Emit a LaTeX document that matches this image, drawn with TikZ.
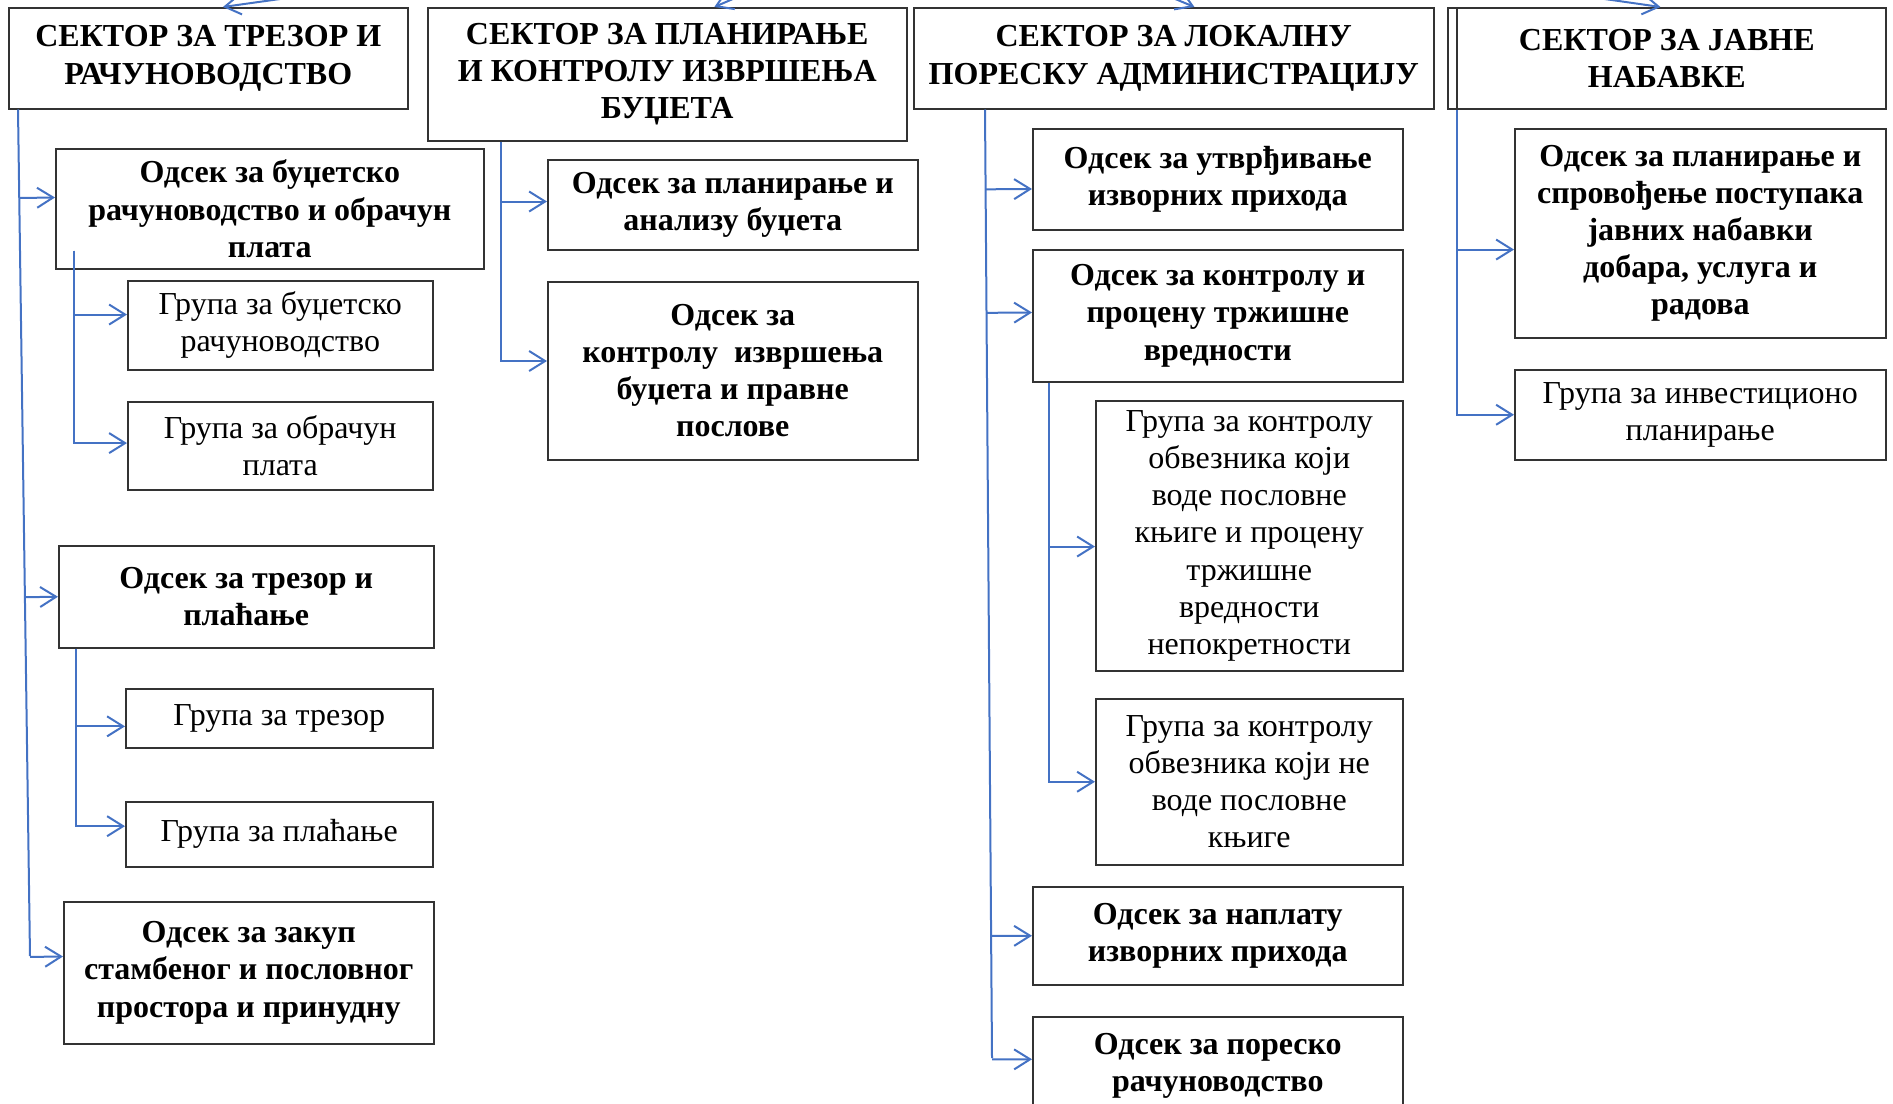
\documentclass[tikz,border=0pt]{standalone}
\usepackage{fontspec}
\setmainfont{Liberation Serif}
\usetikzlibrary{arrows.meta}
\usetikzlibrary{calc}
\definecolor{linkblue}{RGB}{68,114,196}
\newcommand{\boxfont}{\fontsize{16}{18.6}\selectfont}
\tikzset{x=0.5pt, y=-0.5pt, % One unit is one pixel of the chart, y runs down
sektor/.style={ % Sets the properties for each box
draw=black!80,
line width=0.75pt,
inner sep=0pt,
align=center,
anchor=north west,
font=\boxfont\bfseries},
grupa/.style={ % Groups are set in regular weight
sektor,
font=\boxfont},
link/.style={ % Blue connectors with open arrowheads
draw=linkblue,
line width=1pt,
-{Straight Barb[length=8pt,width=10pt]}},
trunk/.style={ % Vertical lines without a tip
draw=linkblue,
line width=1pt}}

\begin{document}
\begin{tikzpicture}
\path[use as bounding box, clip] (0,0) rectangle (1893,1103);

% sectors
\node[sektor, minimum width=199.5pt, minimum height=50.5pt] (S1) at (8,7) {СЕКТОР ЗА ТРЕЗОР И\\РАЧУНОВОДСТВО};
\node[sektor, minimum width=239.5pt, minimum height=66.5pt] (S2) at (427,7) {СЕКТОР ЗА ПЛАНИРАЊЕ\\И КОНТРОЛУ ИЗВРШЕЊА\\БУЏЕТА};
\node[sektor, minimum width=260pt, minimum height=50.5pt] (S3) at (913,7) {СЕКТОР ЗА ЛОКАЛНУ\\ПОРЕСКУ АДМИНИСТРАЦИЈУ};
\node[sektor, minimum width=219pt, minimum height=50.5pt] (S4) at (1447,7) {СЕКТОР ЗА ЈАВНЕ\\НАБАВКЕ};

% first sector
\node[sektor, minimum width=214pt, minimum height=60pt] (o11) at (55,148) {Одсек за буџетско\\рачуноводство и обрачун\\плата};
\node[grupa, minimum width=152.5pt, minimum height=44.5pt] (g111) at (127,280) {Група за буџетско\\рачуноводство};
\node[grupa, minimum width=152.5pt, minimum height=44pt] (g112) at (127,401) {Група за обрачун\\плата};
\node[sektor, minimum width=187.5pt, minimum height=51pt] (o12) at (58,545) {Одсек за трезор и\\плаћање};
\node[grupa, minimum width=153.5pt, minimum height=29.5pt] (g121) at (125,688) {Група за трезор};
\node[grupa, minimum width=153.5pt, minimum height=32.5pt] (g122) at (125,801) {Група за плаћање};
\node[sektor, minimum width=185pt, minimum height=71pt] (o13) at (63,901) {Одсек за закуп\\стамбеног и пословног\\простора и принудну};

% second sector
\node[sektor, minimum width=185pt, minimum height=45pt] (o21) at (547,159) {Одсек за планирање и\\анализу буџета};
\node[sektor, minimum width=185pt, minimum height=89pt] (o22) at (547,281) {Одсек за\\контролу~~извршења\\буџета и правне\\послове};

% third sector
\node[sektor, minimum width=185pt, minimum height=50.5pt] (o31) at (1032,128) {Одсек за утврђивање\\изворних прихода};
\node[sektor, minimum width=185pt, minimum height=66pt] (o32) at (1032,249) {Одсек за контролу и\\процену тржишне\\вредности};
\node[grupa, minimum width=153.5pt, minimum height=135pt] (g321) at (1095,400) {Група за контролу\\обвезника који\\воде пословне\\књиге и процену\\тржишне\\вредности\\непокретности};
\node[grupa, minimum width=153.5pt, minimum height=83pt] (g322) at (1095,698) {Група за контролу\\обвезника који не\\воде пословне\\књиге};
\node[sektor, minimum width=185pt, minimum height=49pt] (o33) at (1032,886) {Одсек за наплату\\изворних прихода};
\node[sektor, minimum width=185pt, minimum height=49pt] (o34) at (1032,1016) {Одсек за пореско\\рачуноводство};

% fourth sector
\node[sektor, minimum width=185.5pt, minimum height=104.5pt] (o41) at (1514,128) {Одсек за планирање и\\спровођење поступака\\јавних набавки\\добара, услуга и\\радова};
\node[grupa, minimum width=185.5pt, minimum height=45pt] (g411) at (1514,369) {Група за инвестиционо\\планирање};

% arrows coming in from above the cut
\coordinate (vrh) at (950,-95);
\draw[link] (vrh) -- (S1.74);
\draw[link] (vrh) -- (S2.55);
\draw[link] (vrh) -- (S3.68);
\draw[link] (vrh) -- (S4.97);

% column 1
\coordinate (c1) at ($(S1.south west)+(10,0)$);
\coordinate (c1end) at (30,956);
\draw[trunk] (c1) -- (c1end);
\draw[link] ($(c1)!(o11.177)!(c1end)$) -- (o11.177);
\draw[link] ($(c1)!(o12.180)!(c1end)$) -- (o12.180);
\draw[link] ($(c1)!(o13.175)!(c1end)$) -- (o13.175);
\coordinate (c11) at ($(o11.south west)+(19,-19)$);
\draw[link] (c11) |- (g111.176);
\draw[link] (c11) |- (g112.179);
\coordinate (c12) at ($(o12.south west)+(18,0)$);
\draw[link] (c12) |- (g121.183);
\draw[link] (c12) |- (g122.177);

% column 2
\coordinate (c2) at ($(S2.south west)+(74,0)$);
\draw[link] (c2) |- (o21.179);
\draw[link] (c2) |- (o22.177);

% column 3
\coordinate (c3) at ($(S3.south west)+(72,0)$);
\coordinate (c3end) at (992,1058);
\draw[trunk] (c3) -- (c3end);
\draw[link] ($(c3)!(o31.183)!(c3end)$) -- (o31.183);
\draw[link] ($(c3)!(o32.179)!(c3end)$) -- (o32.179);
\draw[link] ($(c3)!(o33.180)!(c3end)$) -- (o33.180);
\draw[link] ($(c3)!(o34.178)!(c3end)$) -- (o34.178);
\coordinate (c32) at ($(o32.south west)+(17,0)$);
\draw[link] (c32) |- (g321.184);
\draw[link] (c32) |- (g322.180);

% column 4
\coordinate (c4) at ($(S4.south west)+(10,0)$);
\draw[black!80, line width=0.75pt] ($(S4.north west)+(10,0)$) -- (c4);
\draw[link] (c4) |- (o41.185);
\draw[link] (c4) |- (g411.180);
\end{tikzpicture}
\end{document}
